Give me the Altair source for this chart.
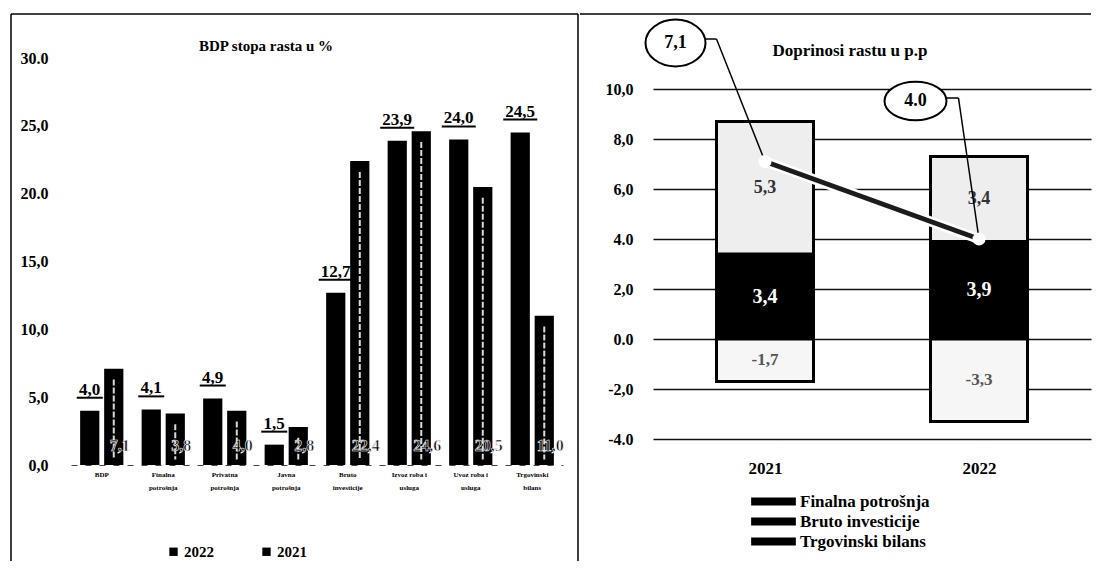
import json
import altair as alt
import pandas as pd

FONT = "Liberation Serif"

# ---------------- left panel data ----------------
left_title = "BDP stopa rasta u %"
categories = ["BDP", "Finalna\npotrošnja", "Privatna\npotrošnja", "Javna\npotrošnja",
              "Bruto\ninvesticije", "Izvoz roba i\nusluga", "Uvoz roba i\nusluga",
              "Trgovinski\nbilans"]
years_left = ["2022", "2021"]
growth_2022 = [4.0, 4.1, 4.9, 1.5, 12.7, 23.9, 24.0, 24.5]
growth_2021 = [7.1, 3.8, 4.0, 2.8, 22.4, 24.6, 20.5, 11.0]
left_tick_values = [0, 5, 10, 15, 20, 25, 30]
left_tick_labels = ["0,0", "5,0", "10,0", "15,0", "20.0", "25,0", "30.0"]

# ---------------- right panel data ----------------
right_title = "Doprinosi rastu u p.p"
contrib_years = ["2021", "2022"]
contrib_series = ["Finalna potrošnja", "Bruto investicije", "Trgovinski bilans"]
finalna = [3.4, 3.9]
bruto = [5.3, 3.4]
trgovinski = [-1.7, -3.3]
gdp_growth = [7.1, 4.0]
gdp_labels = ["7,1", "4.0"]
right_tick_values = [-4, -2, 0, 2, 4, 6, 8, 10]
right_tick_labels = ["-4.0", "-2,0", "0.0", "2,0", "4.0", "6,0", "8,0", "10,0"]


def fmt(v):
    return f"{v:.1f}".replace(".", ",")


def label_expr(values, labels):
    return f"{json.dumps(labels)}[indexof({json.dumps(values)}, datum.value)]"


one = pd.DataFrame({"k": [0]})

# ================= LEFT =================
LW, LH = 492, 407
left_rows = []
for i, c in enumerate(categories):
    for yr, arr in (("2022", growth_2022), ("2021", growth_2021)):
        left_rows.append({"cat": c, "year": yr, "value": arr[i], "label": fmt(arr[i])})
left_df = pd.DataFrame(left_rows)

lx = alt.X("cat:N", sort=categories, scale=alt.Scale(paddingInner=0, paddingOuter=0),
           axis=alt.Axis(title=None, labelAngle=0, labelExpr="split(datum.label, '\\n')",
                         labelFontSize=7, labelLineHeight=13, labelPadding=5, ticks=False,
                         domainColor="#444", domainWidth=1.2, domainDash=[6, 8], labelLimit=90))
lxo = alt.XOffset("year:N", sort=years_left,
                  scale=alt.Scale(domain=years_left, paddingInner=0.2, paddingOuter=0.38))
lyscale = alt.Scale(domain=[0, 30], nice=False, zero=True)
lyaxis = alt.Axis(title=None, values=left_tick_values,
                  labelExpr=label_expr(left_tick_values, left_tick_labels),
                  domain=False, ticks=False, grid=False, labelPadding=23, labelFontSize=16)


def LY(field):
    return alt.Y(field, scale=lyscale, axis=lyaxis)


base = alt.Chart(left_df).encode(x=lx, xOffset=lxo)

bars_l = base.mark_bar().encode(
    y=LY("value:Q"),
    color=alt.Color("year:N", sort=years_left,
                    scale=alt.Scale(domain=years_left, range=["#000000", "#000000"]),
                    legend=alt.Legend(title=None, orient="none", legendX=95, legendY=486,
                                      direction="horizontal", symbolType="square",
                                      symbolSize=70, symbolStrokeWidth=0, labelFont=FONT,
                                      labelFontWeight="bold", labelFontSize=15, labelOffset=3,
                                      columnPadding=45, padding=0)),
)

stripe = base.transform_filter("datum.year == '2021'").transform_calculate(
    top="datum.value - 0.8", bot="0.4"
).mark_rule(color="white", strokeWidth=2, strokeDash=[6, 2], opacity=0.85).encode(
    y=LY("top:Q"), y2="bot:Q"
)

lab22 = base.transform_filter("datum.year == '2022'").mark_text(
    font=FONT, fontWeight="bold", fontSize=17, baseline="alphabetic", dy=-16, color="black"
).encode(y=LY("value:Q"), text="label:N")

ul22 = base.transform_filter("datum.year == '2022'").transform_calculate(
    ulen="length(datum.label) * 8 + 2"
).mark_tick(orient="horizontal", thickness=2, color="black", opacity=1, yOffset=-13).encode(
    y=LY("value:Q"), size=alt.Size("ulen:Q", scale=None)
)

lab21 = base.transform_filter("datum.year == '2021'").mark_text(
    font=FONT, fontWeight="bold", fontSize=16, dx=6, color="black", stroke="white",
    strokeWidth=0.6
).encode(y=alt.datum(1.4), text="label:N")

box_l = [
    alt.Chart(one).mark_rule(color="black", strokeWidth=1.5).encode(
        x=alt.value(-60), y=alt.value(-44), y2=alt.value(503)),
    alt.Chart(one).mark_rule(color="black", strokeWidth=1.5).encode(
        x=alt.value(-60), x2=alt.value(507), y=alt.value(-44)),
    alt.Chart(one).mark_rule(color="black", strokeWidth=1.5).encode(
        x=alt.value(507), y=alt.value(-44), y2=alt.value(503)),
]

title_l = alt.Chart(one).mark_text(font=FONT, fontWeight="bold", fontSize=15).encode(
    x=alt.value(195), y=alt.value(-12), text=alt.value(left_title))

left_chart = alt.layer(*box_l, bars_l, stripe, lab21, ul22, lab22, title_l).properties(
    width=LW, height=LH)

# ================= RIGHT =================
RW, RH = 438, 395
right_rows = []
for j, yr in enumerate(contrib_years):
    for k, (s, arr) in enumerate(zip(contrib_series, [finalna, bruto, trgovinski])):
        right_rows.append({"idx": j, "year": yr, "series": s, "ord": k,
                           "value": arr[j], "label": fmt(arr[j])})
right_df = pd.DataFrame(right_rows)
line_df = pd.DataFrame({"idx": list(range(len(contrib_years))), "year": contrib_years,
                        "gdp": gdp_growth, "label": gdp_labels})

rx = alt.X("idx:Q", scale=alt.Scale(domain=[-0.5, 1.5], nice=False, zero=False),
           axis=alt.Axis(title=None, values=[0, 1],
                         labelExpr=f"{json.dumps(contrib_years)}[datum.value]",
                         grid=False, domain=False, ticks=False, labelPadding=7,
                         labelFontSize=17))
ryscale = alt.Scale(domain=[-4.56, 11.24], nice=False, zero=False)
ryaxis = alt.Axis(title=None, values=right_tick_values,
                  labelExpr=label_expr(right_tick_values, right_tick_labels),
                  grid=True, gridColor="#111111", gridWidth=1.3, domain=False, ticks=False,
                  labelPadding=20, labelFontSize=16)


def RY(field):
    return alt.Y(field, scale=ryscale, axis=ryaxis)


RECT_PATH = "M-2,-0.36H2V0.36H-2Z"
ELL1 = "M-1,0A1,0.78 0 1,1 1,0A1,0.78 0 1,1 -1,0Z"
ELL2 = "M-1,0A1,0.62 0 1,1 1,0A1,0.62 0 1,1 -1,0Z"

legend_pts = alt.Chart(right_df).mark_point(shape=RECT_PATH, filled=True, size=20,
                                            opacity=1).encode(
    x=rx, y=alt.datum(1.0),
    color=alt.Color("series:N", sort=contrib_series,
                    scale=alt.Scale(domain=contrib_series, range=["#000000"] * 3),
                    legend=alt.Legend(title=None, orient="none", legendX=109, legendY=432,
                                      direction="vertical", symbolType=RECT_PATH,
                                      symbolSize=500, symbolStrokeWidth=0, labelFont=FONT,
                                      labelFontWeight="bold", labelFontSize=17,
                                      labelOffset=15, rowPadding=0, padding=0,
                                      labelLimit=300)),
)

stack_base = alt.Chart(right_df).transform_stack(
    stack="value", groupby=["year"], as_=["v0", "v1"], offset="zero",
    sort=[alt.SortField("ord", order="ascending")]
).transform_calculate(mid="(datum.v0 + datum.v1) / 2")

bars_r = stack_base.mark_bar(size=97, stroke="black", strokeWidth=3).encode(
    x=rx, y=RY("v0:Q"), y2="v1:Q",
    fill=alt.Fill("series:N", scale=alt.Scale(domain=contrib_series,
                                              range=["#000000", "#eeeeee", "#f6f6f6"]),
                  legend=None),
)

seg_styles = [("white", 20), ("#333333", 18), ("#555555", 17)]
seg_labels = [
    stack_base.transform_filter(f"datum.ord == {k}").mark_text(
        font=FONT, fontWeight="bold", fontSize=fs, color=col
    ).encode(x=rx, y=RY("mid:Q"), text="label:N")
    for k, (col, fs) in enumerate(seg_styles)
]

# callout geometry (pixel offsets from the data point)
callouts = [
    {"idx": 0, "ell": ELL1, "size": 3600, "ex": -89.5, "ey": -118.5,
     "sx": -59.5, "kx": -48.5, "ky": -122.5},
    {"idx": 1, "ell": ELL2, "size": 3844, "ex": -63.5, "ey": -138,
     "sx": -32.5, "kx": -20.5, "ky": -141},
]
callout_layers = []
for c in callouts:
    src = alt.Chart(line_df).transform_filter(f"datum.idx == {c['idx']}")
    callout_layers.append(src.mark_rule(color="black", strokeWidth=1.5,
                                        x2Offset=c["kx"], y2Offset=c["ky"]).encode(
        x=rx, y=RY("gdp:Q"), x2="idx:Q", y2="gdp:Q"))
    callout_layers.append(src.mark_rule(color="black", strokeWidth=1.5,
                                        xOffset=c["sx"], x2Offset=c["kx"],
                                        yOffset=c["ky"], y2Offset=c["ky"]).encode(
        x=rx, y=RY("gdp:Q"), x2="idx:Q", y2="gdp:Q"))

ellipse_layers = []
for c in callouts:
    src = alt.Chart(line_df).transform_filter(f"datum.idx == {c['idx']}")
    ellipse_layers.append(src.mark_point(shape=c["ell"], filled=True, fill="white",
                                         stroke="black", strokeWidth=2, size=c["size"],
                                         opacity=1, xOffset=c["ex"], yOffset=c["ey"]).encode(
        x=rx, y=RY("gdp:Q")))
    ellipse_layers.append(src.mark_text(font=FONT, fontWeight="bold", fontSize=18,
                                        color="black", xOffset=c["ex"],
                                        yOffset=c["ey"]).encode(
        x=rx, y=RY("gdp:Q"), text="label:N"))

halo = alt.Chart(line_df).mark_line(color="white", strokeWidth=10).encode(x=rx, y=RY("gdp:Q"))
gline = alt.Chart(line_df).mark_line(color="#1c1c1c", strokeWidth=5).encode(x=rx, y=RY("gdp:Q"))
gpts = alt.Chart(line_df).mark_point(filled=True, color="white", size=170, opacity=1).encode(
    x=rx, y=RY("gdp:Q"))

box_r = alt.Chart(one).mark_rule(color="black", strokeWidth=1.5).encode(
    x=alt.value(-73), x2=alt.value(438), y=alt.value(-44))

title_r = alt.Chart(one).mark_text(font=FONT, fontWeight="bold", fontSize=17).encode(
    x=alt.value(197), y=alt.value(-7), text=alt.value(right_title))

right_chart = alt.layer(box_r, legend_pts, bars_r, *seg_labels, *callout_layers, halo, gline,
                        gpts, *ellipse_layers, title_r).properties(width=RW, height=RH)

chart = alt.hconcat(left_chart, right_chart, spacing=0).resolve_scale(
    x="independent", y="independent", color="independent", fill="independent"
).resolve_legend(color="independent").properties(
    padding={"left": 2, "top": 5, "right": 0, "bottom": 0}
).configure_view(stroke=None).configure_axis(
    labelFont=FONT, labelFontWeight="bold", labelColor="black"
)

chart.save("out.html", embed_options={"renderer": "svg", "actions": False})
